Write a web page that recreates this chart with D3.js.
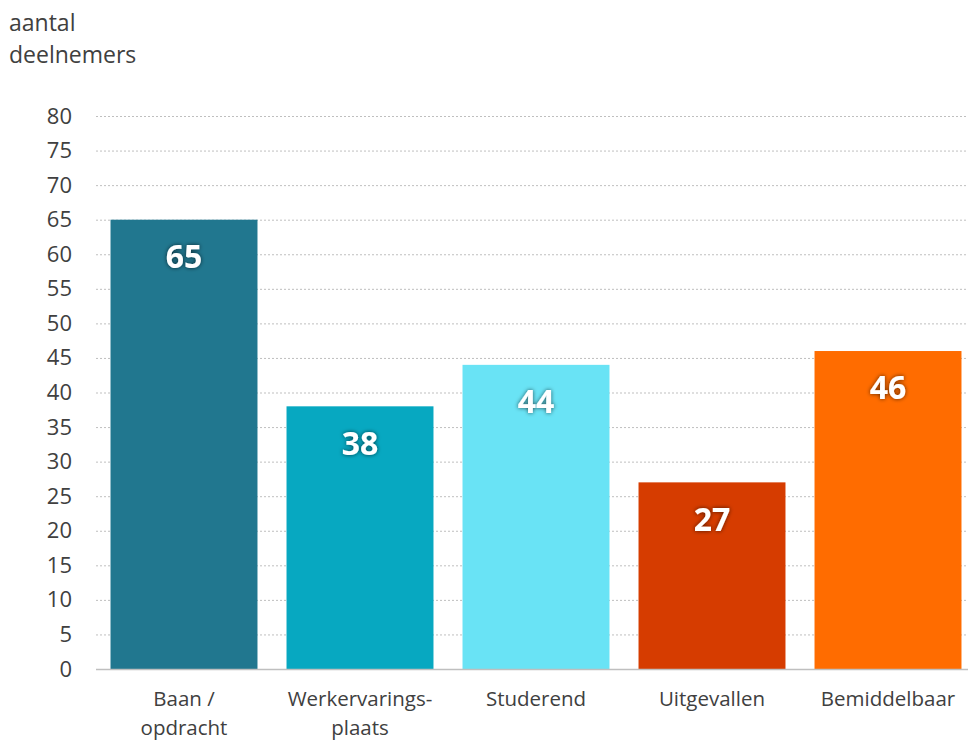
<!DOCTYPE html>
<html>
<head>
<meta charset="utf-8">
<script src="https://cdn.jsdelivr.net/npm/d3@7"></script>
<style>
  body { margin: 0; background: #fff; }
  svg { display: block; font-family: "Open Sans", "Noto Sans", sans-serif; }
</style>
</head>
<body>
<div id="chart"></div>
<script>
var categories = [["Baan /", "opdracht"], ["Werkervarings-", "plaats"], ["Studerend"], ["Uitgevallen"], ["Bemiddelbaar"]];
var values = [65, 38, 44, 27, 46];
var colors = ["#21778f", "#07a8c1", "#69e3f5", "#d63c00", "#ff6c00"];
var yTicks = [0, 5, 10, 15, 20, 25, 30, 35, 40, 45, 50, 55, 60, 65, 70, 75, 80];
var yTitle = ["aantal", "deelnemers"];

var width = 968, height = 740;
var margin = {top: 116, bottom: 71, left: 96, right: -8};

var svg = d3.select("#chart")
    .append("svg")
    .attr("width", width)
    .attr("height", height);

var x = d3.scaleBand()
    .domain(d3.range(values.length))
    .range([margin.left, width - margin.right])
    .paddingInner(0.165)
    .paddingOuter(0.0825);

var y = d3.scaleLinear()
    .domain([0, 80])
    .range([height - margin.bottom, margin.top]);

// dotted gridlines
svg.append("g")
    .selectAll("line")
    .data(yTicks.filter(function(d){ return d > 0; }))
    .enter()
    .append("line")
    .attr("x1", margin.left)
    .attr("x2", width - margin.right)
    .attr("y1", function(d){ return y(d) + 0.5; })
    .attr("y2", function(d){ return y(d) + 0.5; })
    .attr("stroke", "#bfbfbf")
    .attr("stroke-width", 1)
    .attr("stroke-dasharray", "2,2");

// y axis tick labels
var yAxis = d3.axisLeft(y).tickValues(yTicks).tickSize(0).tickPadding(0);
svg.append("g")
    .attr("transform", "translate(" + (margin.left - 24) + ",0)")
    .call(yAxis)
    .call(function(g){ g.select(".domain").remove(); })
    .selectAll("text")
    .attr("font-size", 22)
    .attr("font-family", "'Open Sans', 'Noto Sans', sans-serif")
    .attr("fill", "#404040");

// bars
svg.append("g")
    .selectAll("rect")
    .data(values)
    .enter()
    .append("rect")
    .attr("x", function(d, i){ return x(i); })
    .attr("y", function(d){ return y(d); })
    .attr("width", x.bandwidth())
    .attr("height", function(d){ return y(0) - y(d); })
    .attr("fill", function(d, i){ return colors[i]; });

// baseline
svg.append("line")
    .attr("x1", margin.left)
    .attr("x2", width - margin.right)
    .attr("y1", y(0) + 0.5)
    .attr("y2", y(0) + 0.5)
    .attr("stroke", "#bfbfbf")
    .attr("stroke-width", 1.5);

// value labels with a dark glow
var defs = svg.append("defs");
var filter = defs.append("filter").attr("id", "glow")
    .attr("x", "-30%").attr("y", "-30%").attr("width", "160%").attr("height", "160%");
filter.append("feGaussianBlur").attr("in", "SourceAlpha").attr("stdDeviation", 2).attr("result", "blur");
filter.append("feFlood").attr("flood-color", "#000").attr("flood-opacity", 0.65);
filter.append("feComposite").attr("in2", "blur").attr("operator", "in").attr("result", "shadow");
var merge = filter.append("feMerge");
merge.append("feMergeNode").attr("in", "shadow");
merge.append("feMergeNode").attr("in", "SourceGraphic");

svg.append("g")
    .selectAll("text")
    .data(values)
    .enter()
    .append("text")
    .attr("x", function(d, i){ return x(i) + x.bandwidth() / 2; })
    .attr("y", function(d){ return y(d) + 37; })
    .attr("dy", "0.35em")
    .attr("text-anchor", "middle")
    .attr("font-size", 32)
    .attr("font-weight", "bold")
    .attr("fill", "#fff")
    .attr("filter", "url(#glow)")
    .text(function(d){ return d; });

// category labels
var cat = svg.append("g")
    .selectAll("text")
    .data(categories)
    .enter()
    .append("text")
    .attr("x", function(d, i){ return x(i) + x.bandwidth() / 2; })
    .attr("y", y(0) + 37)
    .attr("text-anchor", "middle")
    .attr("font-size", 20.5)
    .attr("fill", "#404040");
cat.selectAll("tspan")
    .data(function(d){ return d; })
    .enter()
    .append("tspan")
    .attr("x", function(){ return d3.select(this.parentNode).attr("x"); })
    .attr("dy", function(d, i){ return i === 0 ? 0 : 29; })
    .text(function(d){ return d; });

// axis title
svg.append("text")
    .attr("x", 9)
    .attr("y", 31)
    .attr("font-size", 23)
    .attr("fill", "#404040")
    .selectAll("tspan")
    .data(yTitle)
    .enter()
    .append("tspan")
    .attr("x", 9)
    .attr("dy", function(d, i){ return i === 0 ? 0 : 32; })
    .text(function(d){ return d; });
</script>
</body>
</html>
